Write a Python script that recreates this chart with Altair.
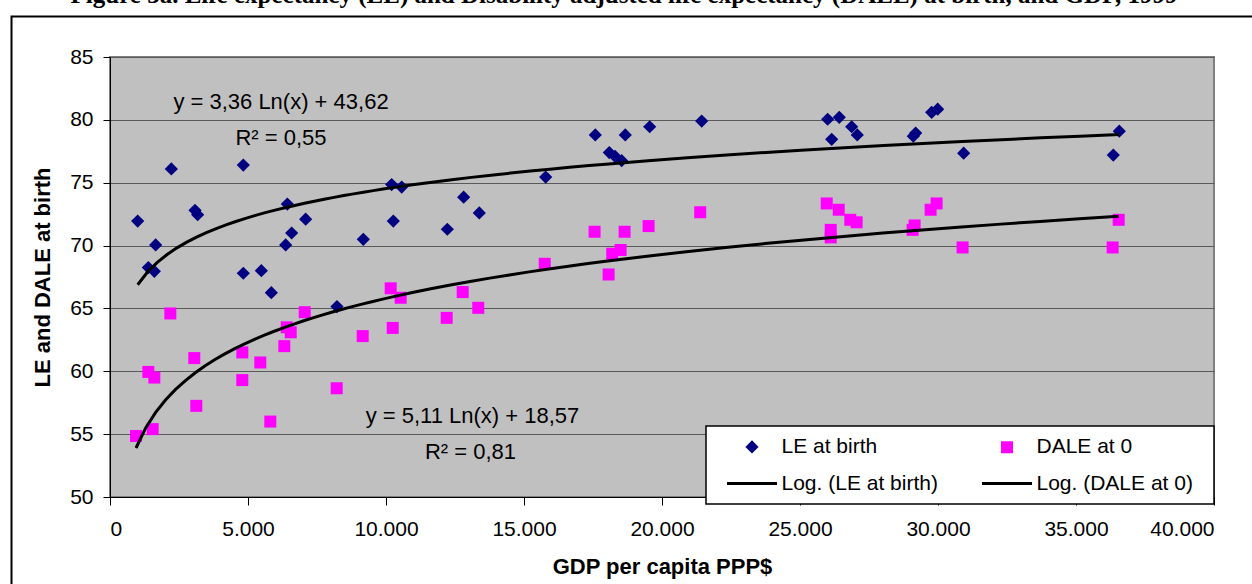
import altair as alt
import pandas as pd

# ---------------- data ----------------
le_gdp = [1003, 1389, 1606, 1655, 2222, 3080, 3176, 4830, 4830, 5483,
          5845, 6365, 6425, 6582, 7089, 8224, 9178, 10205, 10265, 10569,
          12222, 12814, 13380, 15786, 17583, 18090, 18297, 18539, 18670, 19554,
          21438, 26003, 26423, 26148, 26872, 27075, 29104, 29191, 29771, 29988,
          30930, 36351, 36568]
le_years = [71.95, 68.25, 67.95, 70.05, 76.1, 72.8, 72.45, 76.4, 67.8, 68.0,
            66.25, 70.05, 73.3, 71.0, 72.1, 65.15, 70.5, 74.85, 71.95, 74.65,
            71.3, 73.85, 72.6, 75.45, 78.8, 77.4, 77.1, 76.75, 78.8, 79.45,
            79.9, 80.05, 80.2, 78.45, 79.45, 78.8, 78.7, 78.95, 80.6, 80.85,
            77.35, 77.2, 79.1]

dale_gdp = [942, 1389, 1546, 1606, 2186, 3054, 3127, 4794, 4794, 5446,
            5808, 6316, 6403, 6548, 7055, 8214, 9156, 10170, 10243, 10532,
            12199, 12779, 13343, 15751, 17557, 18065, 18196, 18500, 18645, 19514,
            21384, 25968, 26403, 26113, 26113, 26822, 27052, 29080, 29152, 29732,
            29949, 30891, 36328, 36546]
dale_years = [54.85, 59.95, 55.4, 59.5, 64.6, 61.05, 57.25, 61.5, 59.3, 60.7,
              56.0, 62.0, 63.5, 63.1, 64.7, 58.65, 62.8, 66.6, 63.45, 65.85,
              64.25, 66.3, 65.05, 68.55, 71.1, 67.7, 69.35, 69.65, 71.1, 71.55,
              72.65, 73.35, 72.85, 71.25, 70.65, 72.05, 71.85, 71.25, 71.6, 72.85,
              73.35, 69.85, 69.85, 72.05]

# legend entries (column-major order: first column, then second column)
series_names = ["LE at birth", "Log. (LE at birth)", "DALE at 0", "Log. (DALE at 0)"]
x_ticks = [0, 5000, 10000, 15000, 20000, 25000, 30000, 35000, 40000]
y_ticks = [50, 55, 60, 65, 70, 75, 80, 85]

eq_text = ["y = 3,36 Ln(x) + 43,62", "R² = 0,55", "y = 5,11 Ln(x) + 18,57", "R² = 0,81"]
eq_gdp = [6196, 6196, 13134, 13061]
eq_years = [80.84, 77.98, 55.88, 53.05]

title_text = "Figure 3a. Life expectancy (LE) and Disability adjusted life expectancy (DALE) at birth, and GDP, 1999"

# ---------------- tables ----------------
points = pd.DataFrame({
    "gdp": le_gdp + dale_gdp,
    "years": le_years + dale_years,
    "series": ["LE at birth"] * len(le_gdp) + ["DALE at 0"] * len(dale_gdp),
})
eqs = pd.DataFrame({"gdp": eq_gdp, "years": eq_years, "label": eq_text})

FONT = "Liberation Sans"
NAVY = "#000080"
MAGENTA = "#FF00FF"
diamond = "M0,-1.1L1.1,0L0,1.1L-1.1,0Z"
line_sym = "M-4.17,0L4.17,0"

fill_range = [NAVY, "transparent", MAGENTA, "transparent"]
stroke_range = ["transparent", "#000000", "transparent", "#000000"]
shape_range = [diamond, line_sym, "square", line_sym]

x_scale = alt.Scale(domain=[0, 40000], nice=False, zero=False)
y_scale = alt.Scale(domain=[50, 85], nice=False, zero=False)

x_enc = alt.X("gdp:Q", scale=x_scale,
              axis=alt.Axis(values=x_ticks, title="GDP per capita PPP$", grid=False,
                            labelExpr="replace(format(datum.value, ','), ',', '.')",
                            tickSize=8, labelPadding=30, labelBaseline="alphabetic",
                            titleY=76, titleBaseline="alphabetic"))
y_enc = alt.Y("years:Q", scale=y_scale,
              axis=alt.Axis(values=y_ticks, title="LE and DALE at birth", grid=True,
                            tickSize=7, labelPadding=10,
                            titleX=-68, titleY=220, titleBaseline="middle", titleAlign="center"))

legend = alt.Legend(title=None, orient="none", legendX=617, legendY=379,
                    columns=2, columnPadding=37, rowPadding=12,
                    symbolOffset=14.5, labelOffset=19, labelFontSize=21, labelFont=FONT,
                    labelColor="black", labelLimit=400, symbolStrokeWidth=3,
                    symbolSize=144, padding=0)

dom = series_names
pts = alt.Chart(points).mark_point(filled=True, size=144, opacity=1).encode(
    x=x_enc, y=y_enc,
    fill=alt.Fill("series:N", scale=alt.Scale(domain=dom, range=fill_range), legend=legend),
    stroke=alt.Stroke("series:N", scale=alt.Scale(domain=dom, range=stroke_range), legend=legend),
    shape=alt.Shape("series:N", scale=alt.Scale(domain=dom, range=shape_range), legend=legend),
)

trend = alt.Chart(points).transform_regression(
    "gdp", "years", method="log", groupby=["series"]
).mark_line(color="black", strokeWidth=3).encode(
    x=alt.X("gdp:Q", scale=x_scale), y=alt.Y("years:Q", scale=y_scale), detail="series:N"
)

labels = alt.Chart(eqs).mark_text(font=FONT, fontSize=22, color="black", align="center",
                                  baseline="alphabetic").encode(
    x=alt.X("gdp:Q", scale=x_scale), y=alt.Y("years:Q", scale=y_scale), text="label:N"
)

one = alt.Data(values=[{"t": title_text}])
legend_box = alt.Chart(one).mark_rect(fill="white", stroke="black", strokeWidth=1.5).encode(
    x=alt.value(596), x2=alt.value(1104), y=alt.value(369), y2=alt.value(447)
)
frame = alt.Chart(one).mark_rect(fill=None, stroke="black", strokeWidth=2, fillOpacity=0).encode(
    x=alt.value(-98.5), x2=alt.value(1300), y=alt.value(-40.5), y2=alt.value(700)
)
title = alt.Chart(one).mark_text(font="Liberation Serif", fontWeight="bold", fontSize=25,
                                 color="black", align="center", baseline="alphabetic").encode(
    x=alt.value(514), y=alt.value(-54), text="t:N"
)

chart = alt.layer(pts, trend, labels, legend_box, frame, title).properties(
    width=1104, height=440,
    padding={"left": 110, "top": 57, "right": 38, "bottom": 87},
    autosize=alt.AutoSizeParams(type="none"),
).configure_view(
    fill="#C0C0C0", stroke="#808080", strokeWidth=2
).configure_axis(
    domainColor="black", tickColor="black", labelColor="black", titleColor="black",
    labelFont=FONT, labelFontSize=21, titleFont=FONT, titleFontSize=22, titleFontWeight="bold",
    gridColor="#5a5a5a", gridWidth=1
)

chart.save("out.html", embed_options={"renderer": "svg", "actions": False})
